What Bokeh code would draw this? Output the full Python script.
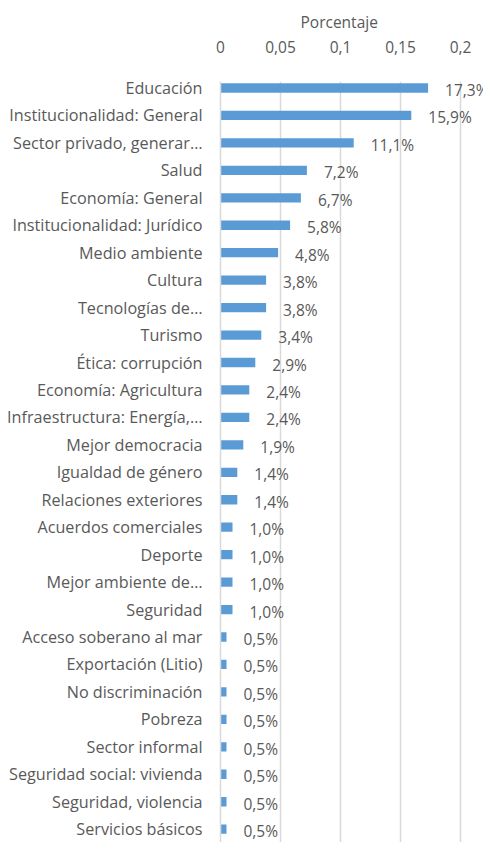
from bokeh.plotting import figure
from bokeh.models import ColumnDataSource, LabelSet, FixedTicker, CustomJSTickFormatter, Range1d
from bokeh.core.properties import value
from bokeh.embed import file_html
from bokeh.resources import INLINE

categories = [
    "Educación", "Institucionalidad: General", "Sector privado, generar…", "Salud",
    "Economía: General", "Institucionalidad: Jurídico", "Medio ambiente", "Cultura",
    "Tecnologías de…", "Turismo", "Ética: corrupción", "Economía: Agricultura",
    "Infraestructura: Energía,…", "Mejor democracia", "Igualdad de género",
    "Relaciones exteriores", "Acuerdos comerciales", "Deporte", "Mejor ambiente de…",
    "Seguridad", "Acceso soberano al mar", "Exportación (Litio)", "No discriminación",
    "Pobreza", "Sector informal", "Seguridad social: vivienda", "Seguridad, violencia",
    "Servicios básicos",
]
values = [0.173, 0.159, 0.111, 0.072, 0.067, 0.058, 0.048, 0.038, 0.038, 0.034,
          0.029, 0.024, 0.024, 0.019, 0.014, 0.014, 0.010, 0.010, 0.010, 0.010,
          0.005, 0.005, 0.005, 0.005, 0.005, 0.005, 0.005, 0.005]
x_ticks = [0, 0.05, 0.1, 0.15, 0.2]
axis_title = "Porcentaje"

FONT = "Open Sans"
FS = "15.5px"
GRAY = "#595959"
n = len(categories)
pos = list(range(n))
labels = [("%.1f%%" % (v * 100)).replace(".", ",") for v in values]

src = ColumnDataSource(dict(y=pos, v=values, lab=labels))

p = figure(width=483, height=842, output_backend="svg", toolbar_location=None,
           x_range=Range1d(0, 0.2 + 23 / 1200), y_range=Range1d(27.486, -0.237),
           x_axis_location="above", min_border_left=220, min_border_right=0,
           min_border_top=81, min_border_bottom=0)
p.outline_line_color = None
p.background_fill_color = "white"

p.title.text = axis_title
p.title.align = "left"
p.title.offset = 80
p.title.text_font = FONT
p.title.text_font_size = FS
p.title.text_font_style = "normal"
p.title.text_color = GRAY
p.title.standoff = 9

p.hbar(y="y", right="v", left=0, height=0.34, source=src,
       fill_color="#5B9BD5", line_color=None)

ls = LabelSet(x="v", y="y", text="lab", source=src, x_offset=17, y_offset=-2,
              text_baseline="middle", text_align="left", text_font=value(FONT),
              text_font_size=value(FS), text_color=GRAY)
p.add_layout(ls)

xa = p.xaxis[0]
xa.ticker = FixedTicker(ticks=x_ticks)
xa.formatter = CustomJSTickFormatter(code="return String(Math.round(tick*100)/100).replace('.', ',');")
xa.axis_line_color = None
xa.major_tick_line_color = None
xa.minor_tick_line_color = None
xa.major_label_text_font = FONT
xa.major_label_text_font_size = FS
xa.major_label_text_color = GRAY
xa.major_label_standoff = 23

ya = p.yaxis[0]
ya.ticker = FixedTicker(ticks=pos)
ya.major_label_overrides = {i: c for i, c in zip(pos, categories)}
ya.axis_line_color = "#d9d9d9"
ya.axis_line_width = 1.5
ya.major_tick_line_color = None
ya.minor_tick_line_color = None
ya.major_label_text_font = FONT
ya.major_label_text_font_size = "16.2px"
ya.major_label_text_color = GRAY
ya.major_label_standoff = 12

p.xgrid.ticker = FixedTicker(ticks=x_ticks)
p.xgrid.grid_line_color = "#d9d9d9"
p.xgrid.grid_line_width = 1.5
p.ygrid.grid_line_color = None

open("out.html", "w").write(file_html(p, INLINE))
